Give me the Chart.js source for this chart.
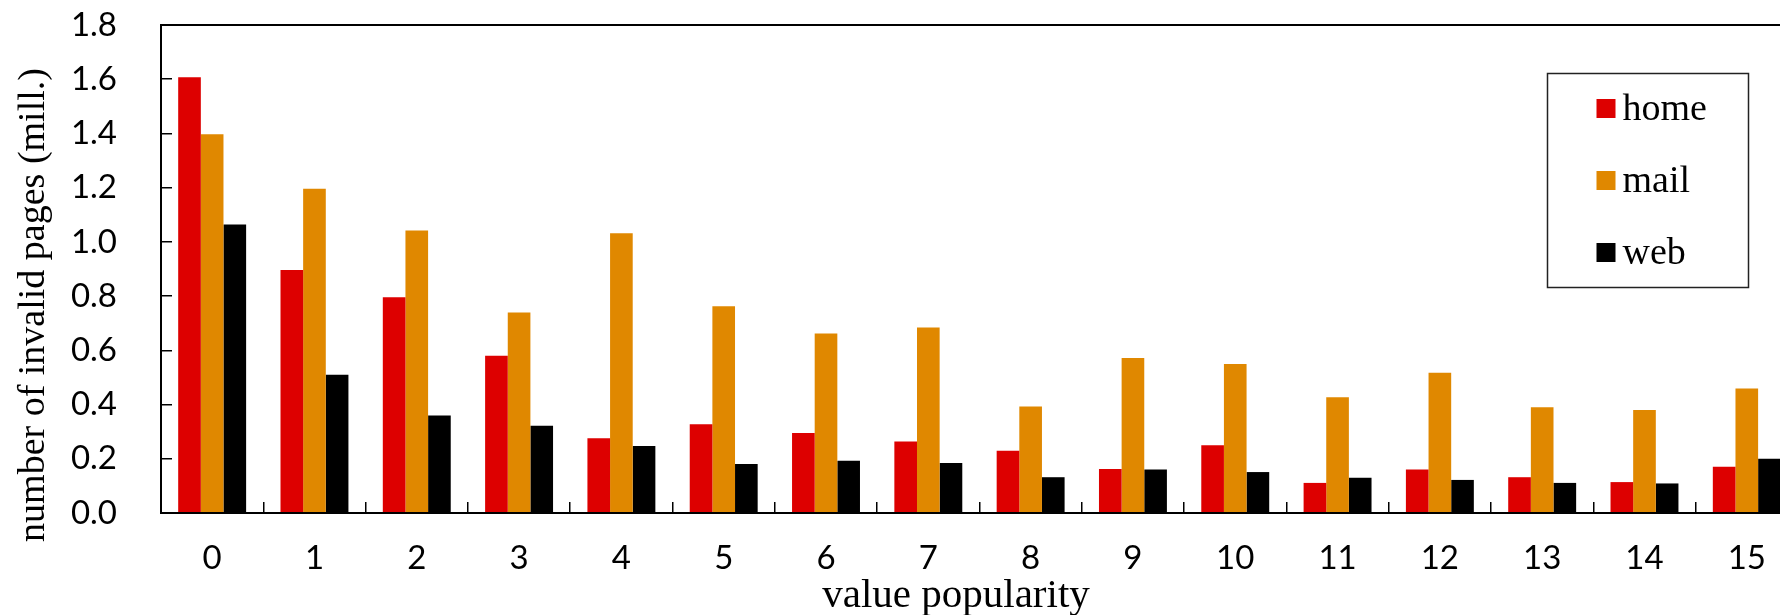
<!DOCTYPE html>
<html>
<head>
<meta charset="utf-8">
<script src="https://cdn.jsdelivr.net/npm/chart.js@4.4.0/dist/chart.umd.min.js"></script>
<style>
  html, body { margin: 0; padding: 0; background: #fff; overflow: hidden; }
  #wrap { width: 1803px; height: 615px; }
</style>
</head>
<body>
<div id="wrap"><canvas id="MyChart" width="1803" height="615"></canvas></div>
<script>
var categories = ['0', '1', '2', '3', '4', '5', '6', '7', '8', '9', '10', '11', '12', '13', '14', '15'];
var home = [1.607, 0.896, 0.796, 0.580, 0.276, 0.327, 0.295, 0.264, 0.230, 0.162, 0.250, 0.111, 0.160, 0.132, 0.114, 0.171];
var mail = [1.397, 1.196, 1.042, 0.740, 1.032, 0.763, 0.662, 0.684, 0.393, 0.572, 0.550, 0.427, 0.517, 0.390, 0.380, 0.459];
var web = [1.064, 0.510, 0.360, 0.322, 0.247, 0.181, 0.193, 0.184, 0.132, 0.160, 0.151, 0.130, 0.122, 0.111, 0.109, 0.200];
var yTicks = [0, 0.2, 0.4, 0.6, 0.8, 1.0, 1.2, 1.4, 1.6, 1.8];

var tickFont = { family: 'Lato', size: 33 };
var serif = 'Liberation Serif';

// frame round the plot area, axis titles and the boxed legend
var decorations = {
  id: 'decorations',
  afterDraw: function (chart) {
    var ctx = chart.ctx;
    var a = chart.chartArea;
    ctx.save();
    ctx.strokeStyle = '#000';
    ctx.lineWidth = 2;
    ctx.strokeRect(a.left, a.top, a.right - a.left, a.bottom - a.top);

    ctx.fillStyle = '#000';
    ctx.font = '41px "' + serif + '"';
    ctx.textAlign = 'center';
    ctx.textBaseline = 'alphabetic';
    ctx.fillText('value popularity', a.left + 795, 607);

    ctx.save();
    ctx.translate(44, 305);
    ctx.rotate(-Math.PI / 2);
    ctx.font = '38px "' + serif + '"';
    ctx.fillText('number of invalid pages (mill.)', 0, 0);
    ctx.restore();

    // legend
    var bx = 1547.5, by = 73.5, bw = 201, bh = 214;
    ctx.lineWidth = 1.5;
    ctx.strokeStyle = '#222';
    ctx.strokeRect(bx, by, bw, bh);
    ctx.font = '38px "' + serif + '"';
    ctx.textAlign = 'left';
    chart.data.datasets.forEach(function (ds, i) {
      var cy = by + 35 + i * 72;
      ctx.fillStyle = ds.backgroundColor;
      ctx.fillRect(bx + 49, cy - 9.5, 19, 19);
      ctx.fillStyle = '#000';
      ctx.fillText(ds.label, bx + 75, cy + 11);
    });
    ctx.restore();
  }
};

var ctx = document.getElementById('MyChart').getContext('2d');
var chart = new Chart(ctx, {
  type: 'bar',
  data: {
    labels: categories,
    datasets: [
      { label: 'home', data: home, backgroundColor: '#dd0000' },
      { label: 'mail', data: mail, backgroundColor: '#e08800' },
      { label: 'web', data: web, backgroundColor: '#000000' },
    ],
  },
  options: {
    responsive: false,
    animation: false,
    layout: { padding: { left: 0, right: 2, top: 25, bottom: 0 } },
    datasets: {
      bar: { categoryPercentage: 0.664, barPercentage: 1.0, borderWidth: 0 },
    },
    scales: {
      x: {
        offset: true,
        grid: {
          offset: true,
          drawOnChartArea: false,
          drawTicks: true,
          tickLength: -11,
          color: '#000',
          lineWidth: 1.5,
        },
        border: { display: false },
        ticks: { color: '#000', font: tickFont, padding: 37, maxRotation: 0 },
        afterFit: function (scale) { scale.height = 102; },
      },
      y: {
        min: 0,
        max: 1.8,
        afterBuildTicks: function (scale) {
          scale.ticks = yTicks.map(function (v) { return { value: v }; });
        },
        grid: {
          drawOnChartArea: false,
          drawTicks: true,
          tickLength: -11,
          color: '#000',
          lineWidth: 1.5,
        },
        border: { display: false },
        ticks: {
          color: '#000',
          font: tickFont,
          padding: 55,
          callback: function (v) { return Number(v).toFixed(1); },
        },
        afterFit: function (scale) {
          scale.width = 161;
          scale.paddingTop = 20;
          scale.paddingBottom = 20;
        },
      },
    },
    plugins: {
      legend: { display: false },
      tooltip: { enabled: false },
    },
  },
  plugins: [decorations],
});
</script>
</body>
</html>
